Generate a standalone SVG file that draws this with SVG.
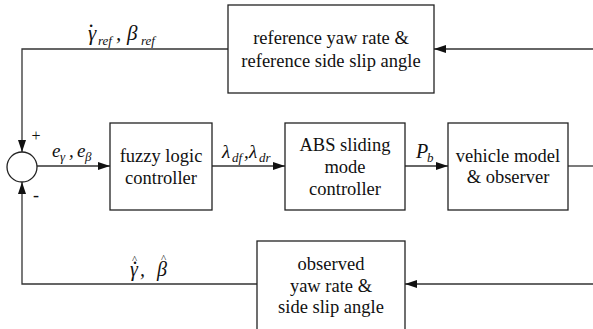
<svg xmlns="http://www.w3.org/2000/svg" width="593" height="329" viewBox="0 0 593 329">
<style>
.box{fill:#fff;stroke:#222;stroke-width:1.3}
.ln{fill:none;stroke:#333;stroke-width:1.3}
.t{font-size:18.5px;fill:#111;text-anchor:middle}
.m{font-size:20px;font-style:italic;fill:#111}
.s{font-size:13px}
.h{font-size:11px;font-style:normal}
</style>
<defs>
<marker id="ah" viewBox="0 0 12 8" refX="12" refY="4" markerWidth="12" markerHeight="8" markerUnits="userSpaceOnUse" orient="auto">
<path d="M0,0 L12,4 L0,8 Z" fill="#111"/>
</marker>
</defs>
<g id="connectors">
<path class="ln" d="M593,49 H434" marker-end="url(#ah)"/>
<path class="ln" d="M228,49 H22 V152" marker-end="url(#ah)"/>
<path class="ln" d="M37,166 H110" marker-end="url(#ah)"/>
<path class="ln" d="M212,166 H285" marker-end="url(#ah)"/>
<path class="ln" d="M405,166 H448" marker-end="url(#ah)"/>
<path class="ln" d="M568,166 H593"/>
<path class="ln" d="M593,284 H405" marker-end="url(#ah)"/>
<path class="ln" d="M257,284 H22 V182" marker-end="url(#ah)"/>
</g>
<g font-family="Liberation Serif, DejaVu Serif, serif">
<g id="sum">
<circle cx="22" cy="167" r="15" class="box"/>
<text x="36" y="141" class="t" style="font-size:16px">+</text>
<text x="36" y="201" class="t" style="font-size:18px">-</text>
</g>
<g id="ref">
<rect x="228" y="5" width="206" height="88" class="box"/>
<text x="331" y="44" class="t">reference yaw rate &amp;</text>
<text x="331" y="67" class="t">reference side slip angle</text>
</g>
<g id="fuzzy">
<rect x="110" y="123" width="102" height="87" class="box"/>
<text x="161" y="162" class="t">fuzzy logic</text>
<text x="161" y="184" class="t">controller</text>
</g>
<g id="abs">
<rect x="285" y="123" width="120" height="87" class="box"/>
<text x="345" y="151" class="t">ABS sliding</text>
<text x="345" y="173" class="t">mode</text>
<text x="345" y="195" class="t">controller</text>
</g>
<g id="vehicle">
<rect x="448" y="123" width="120" height="87" class="box"/>
<text x="508" y="162" class="t">vehicle model</text>
<text x="508" y="183" class="t">&amp; observer</text>
</g>
<g id="observed">
<rect x="257" y="241" width="148" height="90" class="box"/>
<text x="331" y="270" class="t">observed</text>
<text x="331" y="292" class="t">yaw rate &amp;</text>
<text x="331" y="313" class="t">side slip angle</text>
</g>
<g id="labels">
<text class="m" style="font-size:21px"><tspan x="89" y="27">.</tspan><tspan x="88" y="40">γ</tspan><tspan class="s" x="98" y="45">ref</tspan><tspan x="116" y="40">,</tspan><tspan x="127" y="40">β</tspan><tspan class="s" x="141" y="45">ref</tspan></text>
<text class="m" style="font-size:19px"><tspan x="52" y="157">e</tspan><tspan class="s" x="60" y="161">γ</tspan><tspan x="69" y="157">,</tspan><tspan x="77" y="157">e</tspan><tspan class="s" x="85" y="161">β</tspan></text>
<text class="m" style="font-size:19px"><tspan x="222" y="158">λ</tspan><tspan class="s" x="232" y="162">df</tspan><tspan x="244" y="158">,</tspan><tspan x="249" y="158">λ</tspan><tspan class="s" x="259" y="162">dr</tspan></text>
<text class="m"><tspan x="416" y="158">P</tspan><tspan class="s" x="427" y="162">b</tspan></text>
<text class="m"><tspan class="h" x="132" y="263">^</tspan><tspan x="133" y="264">.</tspan><tspan x="130" y="276">γ</tspan><tspan x="140" y="276">,</tspan><tspan class="h" x="161" y="262">^</tspan><tspan x="157" y="276">β</tspan></text>
</g>
</g>
</svg>
